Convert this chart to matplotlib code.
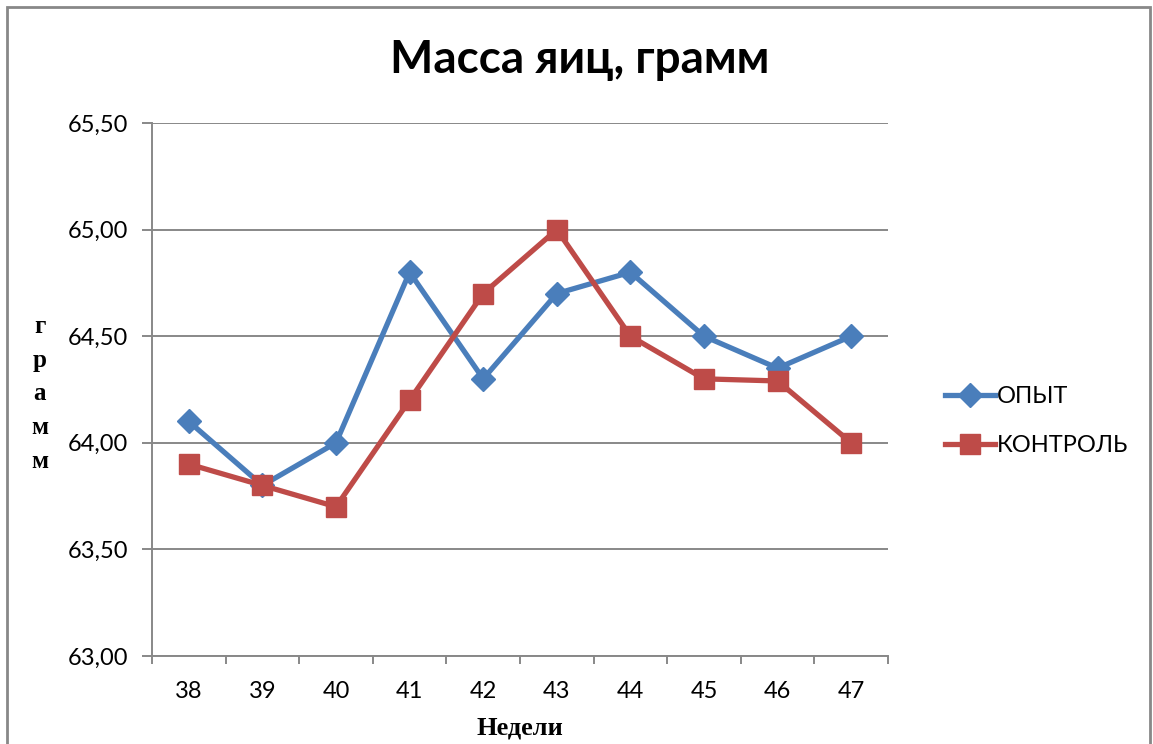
import numpy as np
import matplotlib.pyplot as plt
from matplotlib.patches import Rectangle
from matplotlib.ticker import FixedLocator, FuncFormatter

weeks = ['38', '39', '40', '41', '42', '43', '44', '45', '46', '47']
opyt = [64.10, 63.80, 64.00, 64.80, 64.30, 64.70, 64.80, 64.50, 64.35, 64.50]
kontrol = [63.90, 63.80, 63.70, 64.20, 64.70, 65.00, 64.50, 64.30, 64.29, 64.00]

blue = '#4A7EBB'
red = '#BE4B48'
grey = '#888888'
sans = ['Lato', 'DejaVu Sans']
serif = ['Liberation Serif', 'DejaVu Serif']

fig = plt.figure(figsize=(11.53, 7.44), dpi=100)
ax = fig.add_axes([152/1153, 1 - 656/744, (888-152)/1153, (656-123)/744])

x = np.arange(len(weeks))
ax.plot(x, opyt, color=blue, lw=3.8, marker='D', ms=12, label='ОПЫТ')
ax.plot(x, kontrol, color=red, lw=3.8, marker='s', ms=15, label='КОНТРОЛЬ')

ax.set_xlim(-0.5, len(weeks) - 0.5)
ax.set_ylim(63.0, 65.5)
ax.set_yticks(np.arange(63.0, 65.51, 0.5))
ax.yaxis.set_major_formatter(FuncFormatter(lambda v, p: f'{v:.2f}'.replace('.', ',')))
ax.grid(axis='y', color=grey, lw=1.4)
ax.set_axisbelow(True)

ax.set_xticks(x)
ax.set_xticklabels(weeks)
ax.xaxis.set_minor_locator(FixedLocator(np.arange(-0.5, len(weeks), 1.0)))
ax.tick_params(axis='x', which='major', length=0, pad=18, labelsize=17)
ax.tick_params(axis='x', which='minor', length=6, color=grey, width=1.4)
ax.tick_params(axis='y', length=7, color=grey, width=1.4, pad=10, labelsize=17)

for s in ['top', 'right']:
    ax.spines[s].set_visible(False)
for s in ['left', 'bottom']:
    ax.spines[s].set_color(grey)
    ax.spines[s].set_linewidth(1.4)

for lbl in ax.get_xticklabels() + ax.get_yticklabels():
    lbl.set_family(sans)

fig.text(580/1153, 1 - 60/744, 'Масса яиц, грамм', ha='center', va='center',
         fontsize=33, fontweight='bold', family=sans)
fig.text(40/1153, 1 - 394/744, 'г\nр\nа\nм\nм', ha='center', va='center',
         fontsize=18, fontweight='bold', family=serif, linespacing=1.6)
fig.text(520/1153, 1 - 728/744, 'Недели', ha='center', va='center',
         fontsize=19, fontweight='bold', family=serif)

fig.legend(loc='center left', bbox_to_anchor=(924/1153, 1 - 421/744),
           frameon=False, handlelength=2.1, handletextpad=0.1,
           labelspacing=1.2, prop={'family': sans, 'size': 17})

fig.patches.append(Rectangle((7/1153, -0.05), (1150-7)/1153, 1.05 - 7/744,
                             transform=fig.transFigure, fill=False,
                             edgecolor=grey, lw=2))

fig.savefig('out.png', dpi=100)
